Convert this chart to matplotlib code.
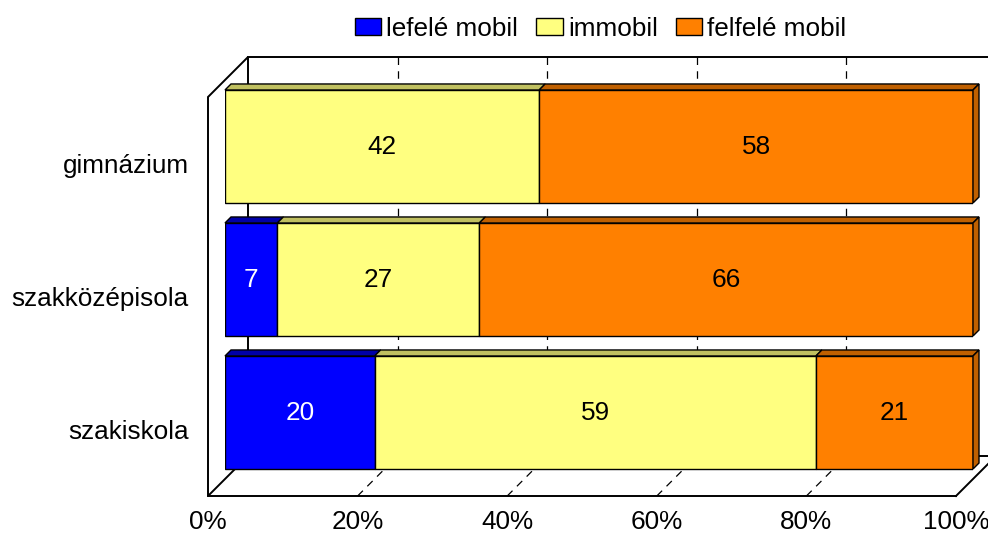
import matplotlib
matplotlib.use('Agg')
import matplotlib.pyplot as plt
from matplotlib.patches import Polygon, Patch
from matplotlib.lines import Line2D
from matplotlib.transforms import IdentityTransform, ScaledTranslation

plt.rcParams['font.family'] = ['Liberation Sans', 'DejaVu Sans']

# data
categories = ['gimnázium', 'szakközépisola', 'szakiskola']
series_names = ['lefelé mobil', 'immobil', 'felfelé mobil']
lefele = [0, 7, 20]
immobil = [42, 27, 59]
felfele = [58, 66, 21]
xtick_labels = ['0%', '20%', '40%', '60%', '80%', '100%']

face_cols = ['#0000FF', '#FFFF80', '#FF8000']
top_cols = ['#0000A8', '#C0C060', '#C06000']
text_cols = ['white', 'black', 'black']

W, H, DPI = 988, 536, 100
FRONT, BACK, LIP = -17, 23, 6   # depth offsets in pixels
FS = 18.8

fig = plt.figure(figsize=(W / DPI, H / DPI), dpi=DPI)
# axes = the plane in which the bar front faces lie
ax = fig.add_axes([225 / W, 1 - 479 / H, 748 / W, 399 / H])
ax.set_xlim(0, 100)
ax.set_ylim(2.5, -0.5)
for s in ax.spines.values():
    s.set_visible(False)
ax.set_facecolor('none')
ident = IdentityTransform()


def px(x, y, d=0):
    ''' display coords of a data point pushed back by depth d pixels '''
    X, Y = ax.transData.transform((x, y))
    return (X + d, Y + d)


def seg(p1, p2, **kw):
    ax.add_line(Line2D([p1[0], p2[0]], [p1[1], p2[1]], transform=ident,
                       clip_on=False, **kw))


# walls and floor
wall_kw = dict(color='black', lw=1.4, zorder=1)
left_wall = [px(0, -0.5, FRONT), px(0, -0.5, BACK), px(0, 2.5, BACK), px(0, 2.5, FRONT)]
ax.add_patch(Polygon(left_wall, closed=True, transform=ident, clip_on=False,
                     facecolor='white', edgecolor='black', lw=1.4, zorder=1))
seg(px(0, -0.5, BACK), px(100, -0.5, BACK), **wall_kw)
seg(px(0, 2.5, BACK), px(100, 2.5, BACK), **wall_kw)
seg(px(0, 2.5, FRONT), px(100, 2.5, FRONT), **wall_kw)
seg(px(100, 2.5, FRONT), px(100, 2.5, BACK), **wall_kw)

# dashed gridlines on back wall and floor
for p in [20, 40, 60, 80]:
    seg(px(p, -0.5, BACK), px(p, 2.5, BACK), color='black', lw=0.9,
        ls=(0, (6, 5)), zorder=1)
    seg(px(p, 2.5, FRONT), px(p, 2.5, BACK), color='black', lw=0.9,
        ls=(0, (6, 5)), zorder=1)

# bars
y = list(range(len(categories)))
h = 0.85
left = [0] * len(categories)
series = [lefele, immobil, felfele]
for i, vals in enumerate(series):
    ax.barh(y, vals, left=left, height=h, color=face_cols[i],
            edgecolor='black', lw=1.0, zorder=3)
    for j, v in enumerate(vals):
        if v <= 0:
            continue
        x0, x1 = left[j], left[j] + v
        top, bot = y[j] - h / 2, y[j] + h / 2
        lip = [px(x0, top), px(x0, top, LIP), px(x1, top, LIP), px(x1, top)]
        ax.add_patch(Polygon(lip, closed=True, transform=ident, clip_on=False,
                             facecolor=top_cols[i], edgecolor='black', lw=1.0, zorder=3))
        if i == len(series) - 1:
            side = [px(x1, top), px(x1, top, LIP), px(x1, bot, LIP), px(x1, bot)]
            ax.add_patch(Polygon(side, closed=True, transform=ident, clip_on=False,
                                 facecolor=top_cols[i], edgecolor='black', lw=1.0, zorder=3))
        ax.text((x0 + x1) / 2, y[j], str(v), ha='center', va='center',
                fontsize=FS, color=text_cols[i], zorder=4)
    left = [l + v for l, v in zip(left, vals)]

# axis labels (sit on the front plane)
ax.set_yticks(y)
ax.set_yticklabels(categories, fontsize=FS)
ax.tick_params(axis='y', length=0, pad=26)
for lab in ax.get_yticklabels():
    lab.set_transform(lab.get_transform() + ScaledTranslation(0, FRONT / DPI, fig.dpi_scale_trans))
ax.set_xticks([0, 20, 40, 60, 80, 100])
ax.set_xticklabels(xtick_labels, fontsize=FS)
ax.tick_params(axis='x', length=0, pad=22)
for lab in ax.get_xticklabels():
    lab.set_transform(lab.get_transform() + ScaledTranslation(FRONT / DPI, 0, fig.dpi_scale_trans))

# legend
handles = [Patch(facecolor=c, edgecolor='black', lw=1.0) for c in face_cols]
fig.legend(handles, series_names, loc='center', bbox_to_anchor=(0.608, 0.946),
           ncol=3, frameon=False, fontsize=FS, handlelength=1.0, handleheight=0.65,
           handletextpad=0.2, columnspacing=0.7, borderaxespad=0)

fig.savefig('out.png', dpi=DPI)
